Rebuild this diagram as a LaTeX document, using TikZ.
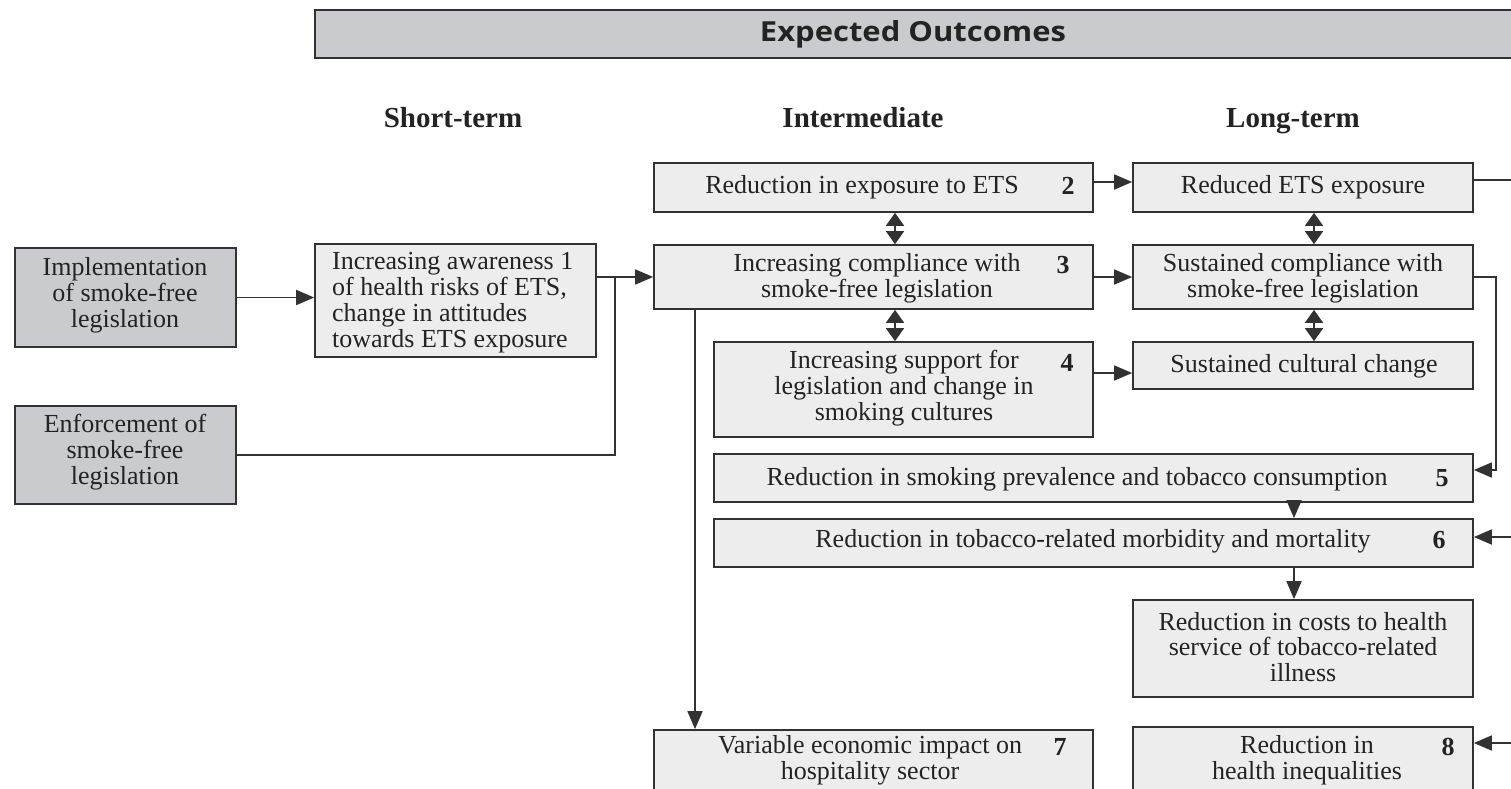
\documentclass[tikz,border=0pt]{standalone}
\usepackage{fontspec}
\setmainfont{Liberation Serif}
\newfontfamily\headfont{Open Sans}
\usetikzlibrary{arrows.meta}

\definecolor{boxfill}{RGB}{237,237,238}
\definecolor{darkfill}{RGB}{201,203,206}
\definecolor{linec}{RGB}{50,50,50}
\definecolor{txtc}{RGB}{35,35,35}

\tikzset{
  box/.style={draw=linec, line width=1.7pt, fill=boxfill, rectangle, inner sep=0pt},
  darkbox/.style={box, fill=darkfill},
  txt/.style={font=\fontsize{26}{25.9}\selectfont, text=txtc, align=center, inner sep=0pt},
  num/.style={font=\fontsize{26}{26}\selectfont\bfseries, text=txtc, inner sep=0pt},
  colhead/.style={font=\fontsize{29}{30}\selectfont\bfseries, text=txtc, inner sep=0pt, text height=19pt, text depth=6pt},
  arr/.style={line width=1.7pt, draw=linec, -{Triangle[length=18pt,width=15pt]}},
  darr/.style={line width=1.7pt, draw=linec, {Triangle[length=13pt,width=18pt]}-{Triangle[length=13pt,width=18pt]}},
}

\begin{document}
\begin{tikzpicture}[x=1pt,y=-1pt]
                \useasboundingbox (0,0) rectangle (1511,788);
                \clip (0,0) rectangle (1511,788);

                % Header and column titles
                \node [darkbox, minimum width=1215pt, minimum height=48pt] (head) at (922.5,34) {};%
                \node [text=txtc, inner sep=0pt] (headt) at (913,34) {\resizebox{306pt}{21pt}{\headfont\bfseries Expected Outcomes}};%
                \node [colhead] (hshort) at (453,121) {Short-term};%
                \node [colhead] (hinter) at (863,121) {Intermediate};%
                \node [colhead] (hlong) at (1293,121) {Long-term};%

                % Drawing box impl
                \node [darkbox, minimum width=221pt, minimum height=99pt] (impl) at (125.5,297.5) {};%
                \node [txt] (implt) at (125,295) {Implementation\\of smoke-free\\legislation};%

                % Drawing box enf
                \node [darkbox, minimum width=221pt, minimum height=98pt] (enf) at (125.5,455) {};%
                \node [txt] (enft) at (125,452) {Enforcement of\\smoke-free\\legislation};%

                % Drawing box aware (1)
                \node [box, minimum width=281pt, minimum height=113pt] (aware) at (455.5,300.5) {};%
                \node [txt, align=left, anchor=west] (awaret) at (332,303) {Increasing awareness 1\\of health risks of ETS,\\change in attitudes\\towards ETS exposure};%

                % Drawing boxes 2, 3, 4
                \node [box, minimum width=439pt, minimum height=49pt] (b2) at (873.5,187.5) {};%
                \node [txt] (b2t) at (862,187) {Reduction in exposure to ETS};%
                \node [num] (b2n) at (1068,186) {2};%

                \node [box, minimum width=439pt, minimum height=64pt] (b3) at (873.5,277) {};%
                \node [txt] (b3t) at (877,278) {Increasing compliance with\\smoke-free legislation};%
                \node [num] (b3n) at (1063,265) {3};%

                \node [box, minimum width=379pt, minimum height=95pt] (b4) at (903.5,389.5) {};%
                \node [txt] (b4t) at (904,388) {Increasing support for\\legislation and change in\\smoking cultures};%
                \node [num] (b4n) at (1067,363) {4};%

                % Drawing long-term boxes
                \node [box, minimum width=340pt, minimum height=49pt] (lets) at (1303,187.5) {};%
                \node [txt] (letst) at (1303,187) {Reduced ETS exposure};%

                \node [box, minimum width=340pt, minimum height=64pt] (lcomp) at (1303,277) {};%
                \node [txt] (lcompt) at (1303,278) {Sustained compliance with\\smoke-free legislation};%

                \node [box, minimum width=340pt, minimum height=47pt] (lcult) at (1303,365.5) {};%
                \node [txt] (lcultt) at (1304,366) {Sustained cultural change};%

                % Drawing boxes 5 and 6
                \node [box, minimum width=759pt, minimum height=48pt] (b5) at (1093.5,478) {};%
                \node [txt] (b5t) at (1077,479) {Reduction in smoking prevalence and tobacco consumption};%
                \node [num] (b5n) at (1442,478) {5};%

                \node [box, minimum width=759pt, minimum height=48pt] (b6) at (1093.5,543) {};%
                \node [txt] (b6t) at (1093,541) {Reduction in tobacco-related morbidity and mortality};%
                \node [num] (b6n) at (1439,540) {6};%

                % Drawing box cost
                \node [box, minimum width=340pt, minimum height=97pt] (cost) at (1303,648.5) {};%
                \node [txt] (costt) at (1303,647) {Reduction in costs to health\\service of tobacco-related\\illness};%

                % Drawing boxes 7 and 8
                \node [box, minimum width=439pt, minimum height=64pt] (b7) at (873.5,762) {};%
                \node [txt] (b7t) at (870,760) {Variable economic impact on\\hospitality sector};%
                \node [num] (b7n) at (1060,747) {7};%

                \node [box, minimum width=340pt, minimum height=64pt] (b8) at (1303,759) {};%
                \node [txt] (b8t) at (1307,760) {Reduction in\\health inequalities};%
                \node [num] (b8n) at (1448,747) {8};%

                % Helper coordinates
                \coordinate (j1) at (615,277);%
                \coordinate (dx) at (895,0);%
                \coordinate (ex) at (1314,0);%
                \coordinate (mx) at (1294,0);%
                \coordinate (vx) at (695,0);%
                \coordinate (a2) at (0,182);%
                \coordinate (a4) at (0,373);%
                \coordinate (outA) at (1520,180);%
                \coordinate (in6) at (1520,537);%
                \coordinate (in8) at (1520,743);%

                % Drawing connectors
                \draw [arr] (impl.east) -- (aware.west |- impl.east);%
                \draw [line width=1.7pt, draw=linec] (enf.east) -| (j1);%
                \draw [arr] (aware.east |- j1) -- (b3.west |- j1);%
                \draw [arr] (b3.south -| vx) -- (b7.north -| vx);%

                \draw [arr] (b2.east |- a2) -- (lets.west |- a2);%
                \draw [arr] (b3.east) -- (lcomp.west);%
                \draw [arr] (b4.east |- a4) -- (lcult.west |- a4);%

                \draw [darr] (b2.south -| dx) -- (b3.north -| dx);%
                \draw [darr] (b3.south -| dx) -- (b4.north -| dx);%
                \draw [darr] (lets.south -| ex) -- (lcomp.north -| ex);%
                \draw [darr] (lcomp.south -| ex) -- (lcult.north -| ex);%

                \draw [line width=1.7pt, draw=linec] (lets.east |- outA) -- (outA);%
                \draw [arr] (lcomp.east) -- ++(22,0) |- ([yshift=8pt]b5.east);%
                \draw [arr] (b5.south -| mx) -- (b6.north -| mx);%
                \draw [arr] (b6.south -| mx) -- (cost.north -| mx);%
                \draw [arr] (in6) -- (b6.east |- in6);%
                \draw [arr] (in8) -- (b8.east |- in8);%
\end{tikzpicture}
\end{document}
